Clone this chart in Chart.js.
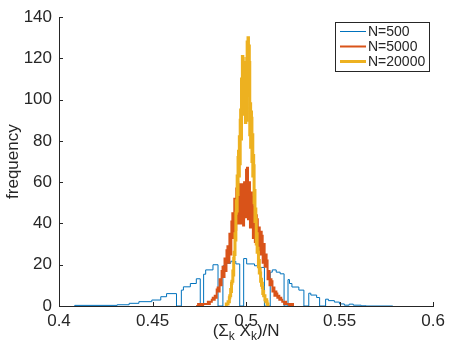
<!DOCTYPE html>
<html>
<head>
<meta charset="utf-8">
<script src="https://cdn.jsdelivr.net/npm/chart.js@4.4.1/dist/chart.umd.min.js"></script>
<style>
  html, body { margin: 0; padding: 0; background: #fff; }
  #wrap { width: 450px; height: 349px; }
</style>
</head>
<body>
<div id="wrap"><canvas id="histChart" width="450" height="349"></canvas></div>
<script>
const seriesNames = ['N=500', 'N=5000', 'N=20000'];
const seriesColors = ['#0072BD', '#D95319', '#EDB120'];
const seriesWidths = [1, 2, 3];
const xTicks = [0.4, 0.45, 0.5, 0.55, 0.6];
const yTicks = [0, 20, 40, 60, 80, 100, 120, 140];

// N=500: stair edges and counts (zeros are the empty bins)
const blueEdges = [0.4084, 0.4311, 0.4375, 0.4427, 0.4496, 0.4544, 0.4575, 0.4628, 0.4654, 0.4665,
  0.4702, 0.4734, 0.4755, 0.4773, 0.4784, 0.4823, 0.4850, 0.4876, 0.4887, 0.4918,
  0.4945, 0.4966, 0.4987, 0.5003, 0.5045, 0.5071, 0.5098, 0.5129, 0.5140, 0.5161,
  0.5182, 0.5203, 0.5224, 0.5232, 0.5245, 0.5282, 0.5309, 0.5335, 0.5346, 0.5377,
  0.5393, 0.5425, 0.5440, 0.5472, 0.5499, 0.5525, 0.5551, 0.5573, 0.5615, 0.5641, 0.5784];
const blueCounts = [0, 0.3, 0.6, 1.3, 2.1, 2.9, 4.5, 6, 0, 7.7,
  9.3, 10.9, 13.2, 0, 15.4, 17.5, 20, 0, 19.5, 20.7,
  21.7, 20.4, 0, 23, 20.4, 19.5, 18.7, 0, 16.4, 17.5,
  16.4, 15.6, 0, 12.8, 10.9, 9.2, 7.7, 0, 6.2, 5.3,
  4.1, 0, 3.3, 2.6, 1.9, 1, 0.4, 0.9, 0.4, 0.1];

// N=5000: 100 bins
const orangeStart = 0.4733;
const orangeWidth = 0.000523;
const orangeCounts = [0, 0, 0, 1, 0, 0, 1, 0, 1, 1,
  1, 1, 1, 2, 1, 2, 2, 3, 4, 3,
  5, 4, 8, 9, 7, 13, 10, 17, 19, 14,
  23, 17, 27, 29, 21, 35, 25, 41, 45, 33,
  52, 37, 57, 60, 40, 59, 40, 58, 59, 39,
  60, 43, 66, 67, 42, 60, 38, 55, 53, 33,
  48, 31, 44, 42, 27, 38, 25, 36, 34, 21,
  30, 19, 25, 22, 13, 17, 10, 13, 12, 7,
  9, 5, 7, 6, 4, 5, 3, 4, 3, 2,
  2, 1, 2, 1, 1, 1, 0, 1, 0, 1];

// N=20000: 100 bins
const yellowStart = 0.4892;
const yellowWidth = 0.000232;
const yellowCounts = [0, 0, 1, 1, 1, 1, 2, 2, 2, 4,
  5, 5, 8, 7, 11, 12, 12, 17, 15, 23,
  26, 25, 35, 32, 45, 51, 46, 63, 54, 72,
  75, 63, 82, 69, 90, 95, 81, 110, 97, 121,
  120, 95, 118, 93, 114, 112, 89, 110, 90, 120,
  128, 104, 130, 102, 126, 118, 83, 98, 77, 94,
  91, 70, 83, 63, 73, 68, 50, 56, 41, 47,
  42, 30, 35, 26, 28, 26, 19, 22, 16, 18,
  16, 12, 13, 10, 11, 9, 6, 7, 5, 5,
  5, 3, 3, 2, 3, 2, 1, 1, 0, 0];

const FONT = '"Liberation Sans", Arial, Helvetica, sans-serif';
const INK = '#262626';

function binEdges(start, width, n) {
  const edges = [];
  for (let i = 0; i <= n; i++) edges.push(start + i * width);
  return edges;
}

// stairs: start and end on the baseline like MATLAB's stairs()
function toStairs(edges, counts) {
  const pts = [{ x: edges[0], y: 0 }];
  counts.forEach((c, i) => pts.push({ x: edges[i], y: c }));
  pts.push({ x: edges[edges.length - 1], y: 0 });
  return pts;
}

const matlabAxes = {
  id: 'matlabAxes',
  afterDraw(chart) {
    const { ctx, chartArea, scales } = chart;
    ctx.save();

    // inward tick marks
    ctx.strokeStyle = INK;
    ctx.lineWidth = 1;
    ctx.beginPath();
    scales.y.ticks.forEach(t => {
      const y = Math.round(scales.y.getPixelForValue(t.value)) + 0.5;
      ctx.moveTo(chartArea.left, y);
      ctx.lineTo(chartArea.left + 4, y);
    });
    scales.x.ticks.forEach(t => {
      const x = Math.round(scales.x.getPixelForValue(t.value)) + 0.5;
      ctx.moveTo(x, chartArea.bottom);
      ctx.lineTo(x, chartArea.bottom - 4);
    });
    ctx.stroke();

    // x label with subscripts
    const parts = [['(\u03A3', false], ['k', true], [' X', false], ['k', true], [')/N', false]];
    const big = '17px ' + FONT, small = '12px ' + FONT;
    let total = 0;
    parts.forEach(([s, sub]) => { ctx.font = sub ? small : big; total += ctx.measureText(s).width; });
    let tx = (chartArea.left + chartArea.right) / 2 - total / 2;
    const ty = 336;
    ctx.fillStyle = INK;
    ctx.textBaseline = 'alphabetic';
    ctx.textAlign = 'left';
    parts.forEach(([s, sub]) => {
      ctx.font = sub ? small : big;
      ctx.fillText(s, tx, sub ? ty + 4 : ty);
      tx += ctx.measureText(s).width;
    });

    // legend box, top right inside the axes
    const bx = 335.5, by = 22.5, bw = 94, bh = 49;
    ctx.fillStyle = '#fff';
    ctx.fillRect(bx, by, bw, bh);
    ctx.strokeStyle = INK;
    ctx.lineWidth = 1;
    ctx.strokeRect(bx, by, bw, bh);
    ctx.font = '14px ' + FONT;
    ctx.textBaseline = 'middle';
    seriesNames.forEach((name, i) => {
      const ry = 31.5 + i * 15;
      ctx.strokeStyle = seriesColors[i];
      ctx.lineWidth = seriesWidths[i];
      ctx.beginPath();
      ctx.moveTo(340, ry);
      ctx.lineTo(366, ry);
      ctx.stroke();
      ctx.fillStyle = INK;
      ctx.fillText(name, 368, ry + 0.5);
    });

    ctx.restore();
  }
};

const datasets = [
  { pts: toStairs(blueEdges, blueCounts), order: 2 },
  { pts: toStairs(binEdges(orangeStart, orangeWidth, orangeCounts.length), orangeCounts), order: 1 },
  { pts: toStairs(binEdges(yellowStart, yellowWidth, yellowCounts.length), yellowCounts), order: 0 }
].map((d, i) => ({
  label: seriesNames[i],
  data: d.pts,
  order: d.order,
  borderColor: seriesColors[i],
  borderWidth: seriesWidths[i],
  stepped: 'after',
  pointRadius: 0,
  fill: false,
  borderJoinStyle: 'miter'
}));

new Chart(document.getElementById('histChart'), {
  type: 'line',
  data: { datasets },
  options: {
    responsive: false,
    animation: false,
    devicePixelRatio: 1,
    layout: { padding: { top: 13, right: 12, left: 0, bottom: 0 } },
    plugins: { legend: { display: false }, tooltip: { enabled: false } },
    scales: {
      x: {
        type: 'linear',
        min: 0.4,
        max: 0.6,
        afterBuildTicks: s => { s.ticks = xTicks.map(v => ({ value: v })); },
        afterFit: s => { s.height = 43; },
        grid: { display: false, drawTicks: false },
        border: { display: true, color: INK, width: 1 },
        ticks: {
          color: INK, padding: 5, maxRotation: 0, autoSkip: false,
          font: { family: FONT, size: 17 },
          callback: v => String(v)
        }
      },
      y: {
        min: 0,
        max: 140,
        afterBuildTicks: s => { s.ticks = yTicks.map(v => ({ value: v })); },
        afterFit: s => { s.width = 59; },
        grid: { display: false, drawTicks: false },
        border: { display: true, color: INK, width: 1 },
        title: {
          display: true, text: 'frequency', color: INK,
          font: { family: FONT, size: 17 }, padding: { top: 3, bottom: 0 }
        },
        ticks: {
          color: INK, padding: 7, autoSkip: false,
          font: { family: FONT, size: 17 },
          callback: v => String(v)
        }
      }
    }
  },
  plugins: [matlabAxes]
});
</script>
</body>
</html>
